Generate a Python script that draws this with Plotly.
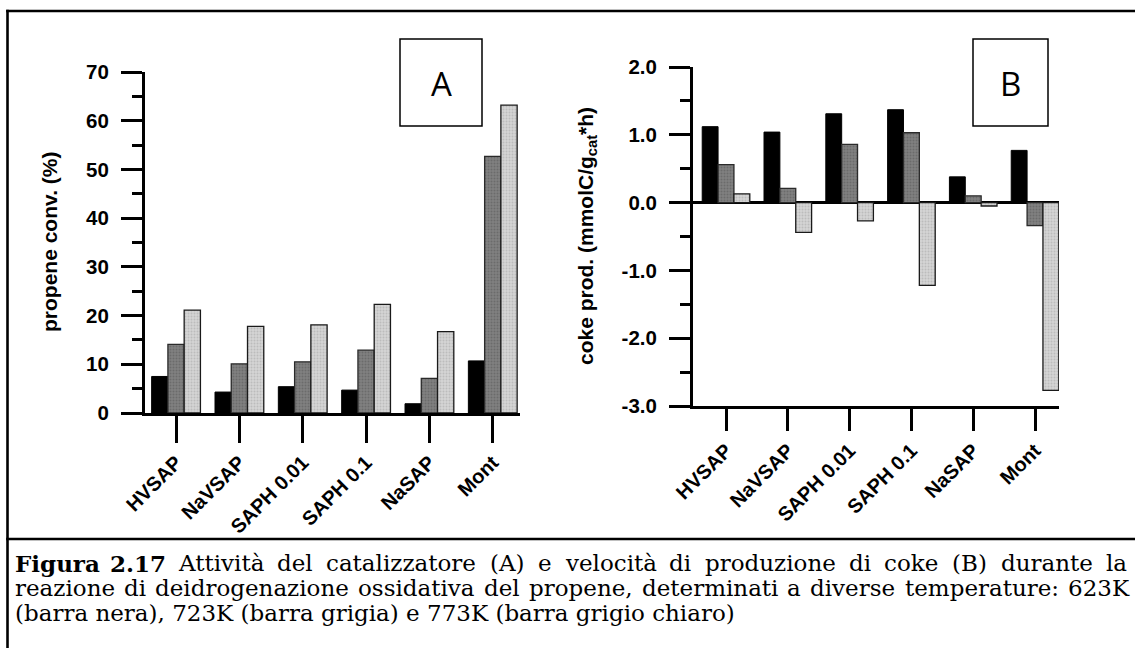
import plotly.graph_objects as go

W, H = 1135, 648

# ---- data -------------------------------------------------------------
categories = ["HVSAP", "NaVSAP", "SAPH 0.01", "SAPH 0.1", "NaSAP", "Mont"]
temperatures = ["623K", "723K", "773K"]

# propene conversion (%)
conv_623 = [7.5, 4.3, 5.4, 4.7, 1.9, 10.7]
conv_723 = [14.1, 10.1, 10.5, 12.9, 7.1, 52.7]
conv_773 = [21.1, 17.8, 18.1, 22.3, 16.7, 63.2]

# coke production (mmolC/g_cat*h)
coke_623 = [1.12, 1.04, 1.31, 1.37, 0.38, 0.77]
coke_723 = [0.56, 0.21, 0.86, 1.03, 0.10, -0.34]
coke_773 = [0.13, -0.44, -0.27, -1.22, -0.05, -2.77]

conv_ticks = [0, 10, 20, 30, 40, 50, 60, 70]
coke_ticks = [-3.0, -2.0, -1.0, 0.0, 1.0, 2.0]
coke_tick_labels = ["-3.0", "-2.0", "-1.0", "0.0", "1.0", "2.0"]

caption_bold = "Figura 2.17"
caption_lines = [
    "Figura 2.17 Attività del catalizzatore (A) e velocità di produzione di coke (B) durante la",
    "reazione di deidrogenazione ossidativa del propene, determinati a diverse temperature: 623K",
    "(barra nera), 723K (barra grigia) e 773K (barra grigio chiaro)",
]


# ---- helpers ----------------------------------------------------------
def px(x):
    return x / W


def py(y):
    return 1 - y / H


SANS = "Liberation Sans, Arial, sans-serif"
SERIF = "DejaVu Serif"
CAPTION_SIZE = 23

# approximate DejaVu Serif advance widths (em) used to justify the caption
_ADV = {
    " ": 0.318, "a": 0.596, "b": 0.640, "c": 0.560, "d": 0.640, "e": 0.592,
    "f": 0.371, "g": 0.640, "h": 0.644, "i": 0.320, "j": 0.306, "k": 0.610,
    "l": 0.320, "m": 0.960, "n": 0.644, "o": 0.602, "p": 0.640, "q": 0.640,
    "r": 0.478, "s": 0.514, "t": 0.402, "u": 0.644, "v": 0.565, "w": 0.830,
    "x": 0.565, "y": 0.565, "z": 0.523, ".": 0.318, ",": 0.318, ":": 0.337,
    "(": 0.390, ")": 0.390, "A": 0.722, "B": 0.735, "K": 0.738, "F": 0.684,
    "à": 0.596,
}


def word_width(word, size, bold=False):
    w = sum(_ADV.get(ch, 0.636) for ch in word)
    return w * size * (1.06 if bold else 1.0)


def justified(line, y, x_left, x_right, bold_words=()):
    words = line.split(" ")
    widths = [word_width(w, CAPTION_SIZE, w in bold_words) for w in words]
    gap = (x_right - x_left - sum(widths)) / (len(words) - 1)
    out, x = [], x_left
    for w, wd in zip(words, widths):
        txt = f"<b>{w}</b>" if w in bold_words else w
        out.append(dict(x=px(x), y=py(y), xref="paper", yref="paper", text=txt,
                        showarrow=False, xanchor="left", yanchor="middle",
                        font=dict(family=SERIF, size=CAPTION_SIZE, color="black")))
        x += wd + gap
    return out


bar_styles = [
    dict(color="#000000", line=dict(color="#000000", width=1)),
    dict(color="#808080", line=dict(color="#2a2a2a", width=1.3),
         pattern=dict(shape=".", fgcolor="#555555", size=3, solidity=0.35,
                      fillmode="overlay")),
    dict(color="#d4d4d4", line=dict(color="#1a1a1a", width=1.3),
         pattern=dict(shape=".", fgcolor="#a4a4a4", size=3, solidity=0.35,
                      fillmode="overlay")),
]

fig = go.Figure()

for name, vals, style in zip(temperatures, [conv_623, conv_723, conv_773], bar_styles):
    fig.add_trace(go.Bar(x=categories, y=vals, name=name, marker=style,
                         xaxis="x", yaxis="y", showlegend=False,
                         offsetgroup=name))

for name, vals, style in zip(temperatures, [coke_623, coke_723, coke_773], bar_styles):
    fig.add_trace(go.Bar(x=categories, y=vals, name=name, marker=style,
                         xaxis="x2", yaxis="y2", showlegend=False,
                         offsetgroup=name))

tick_font = dict(family=SANS, size=20.5, color="black", weight="bold")
cat_font = dict(family=SANS, size=20, color="black", weight="bold")
title_font = dict(family=SANS, size=21, color="black", weight="bold")

common_x = dict(
    type="category", categoryorder="array", categoryarray=categories,
    showline=True, linewidth=3, linecolor="black",
    ticks="outside", tickwidth=3, tickcolor="black",
    tickangle=-45, tickfont=cat_font, automargin=False,
    showgrid=False, zeroline=False, fixedrange=True,
)
common_y = dict(
    showline=True, linewidth=3, linecolor="black",
    ticks="outside", ticklen=21, tickwidth=3, tickcolor="black",
    tickfont=tick_font, showgrid=False, fixedrange=True, automargin=False,
    ticklabelstandoff=8,
)

fig.update_layout(
    template="none",
    width=W, height=H,
    margin=dict(l=0, r=0, t=0, b=0, autoexpand=False),
    paper_bgcolor="white", plot_bgcolor="white",
    barmode="group", bargap=0.23, bargroupgap=0,
    xaxis=dict(common_x, domain=[px(145), px(520)], range=[-0.49, 5.43],
               anchor="y", ticklen=27),
    yaxis=dict(common_y, domain=[py(413), py(72)], range=[0, 70],
               anchor="x", tickvals=conv_ticks, zeroline=False,
               minor=dict(ticks="outside", ticklen=10, tickwidth=3,
                          tickcolor="black", dtick=5, tick0=0)),
    xaxis2=dict(common_x, domain=[px(693), px(1059)], range=[-0.534, 5.388],
                anchor="y2", ticklen=22),
    yaxis2=dict(common_y, domain=[py(406), py(67)], range=[-3, 2],
                anchor="x2", tickvals=coke_ticks, ticktext=coke_tick_labels,
                zeroline=True, zerolinewidth=2.5, zerolinecolor="black",
                minor=dict(ticks="outside", ticklen=10, tickwidth=3,
                           tickcolor="black", dtick=0.5, tick0=0)),
)

shapes = []
annotations = []

# axis titles
annotations.append(dict(x=px(49), y=py(242), xref="paper", yref="paper",
                        text="propene conv. (%)", textangle=-90, showarrow=False,
                        font=title_font, xanchor="center", yanchor="middle"))
annotations.append(dict(x=px(587), y=py(236), xref="paper", yref="paper",
                        text="coke prod. (mmolC/g<sub>cat</sub>*h)", textangle=-90,
                        showarrow=False, font=title_font,
                        xanchor="center", yanchor="middle"))

# panel label boxes
for label, (x0, x1) in zip(["A", "B"], [(400, 482), (973, 1048)]):
    shapes.append(dict(type="rect", xref="paper", yref="paper",
                       x0=px(x0), x1=px(x1), y0=py(126), y1=py(39),
                       line=dict(color="black", width=1.5), fillcolor="white",
                       layer="above"))
    annotations.append(dict(x=px((x0 + x1) / 2), y=py(83), xref="paper", yref="paper",
                            text=label, showarrow=False,
                            font=dict(family="Open Sans, Noto Sans, sans-serif",
                                      size=33, color="black"),
                            xanchor="center", yanchor="middle"))

# caption area and frame
shapes.append(dict(type="rect", xref="paper", yref="paper",
                   x0=px(8), x1=1, y0=0, y1=py(539),
                   line=dict(width=0), fillcolor="white", layer="above"))
frame = dict(color="black", width=2.6)
shapes.append(dict(type="line", xref="paper", yref="paper",
                   x0=px(7.5), x1=px(7.5), y0=0, y1=py(9.8), line=frame, layer="above"))
shapes.append(dict(type="line", xref="paper", yref="paper",
                   x0=px(6.2), x1=1, y0=py(11), y1=py(11), line=frame, layer="above"))
shapes.append(dict(type="line", xref="paper", yref="paper",
                   x0=px(6.2), x1=1, y0=py(539), y1=py(539), line=frame, layer="above"))

# caption text: first two lines justified, last line flush left
bold_words = tuple(caption_bold.split(" "))
annotations += justified(caption_lines[0], 563, 13, 1125, bold_words)
annotations += justified(caption_lines[1], 588, 13, 1127)
annotations.append(dict(x=px(13), y=py(613), xref="paper", yref="paper",
                        text=caption_lines[2], showarrow=False,
                        font=dict(family=SERIF, size=CAPTION_SIZE, color="black"),
                        xanchor="left", yanchor="middle"))

fig.update_layout(shapes=shapes, annotations=annotations)

fig.write_html("out.html")
